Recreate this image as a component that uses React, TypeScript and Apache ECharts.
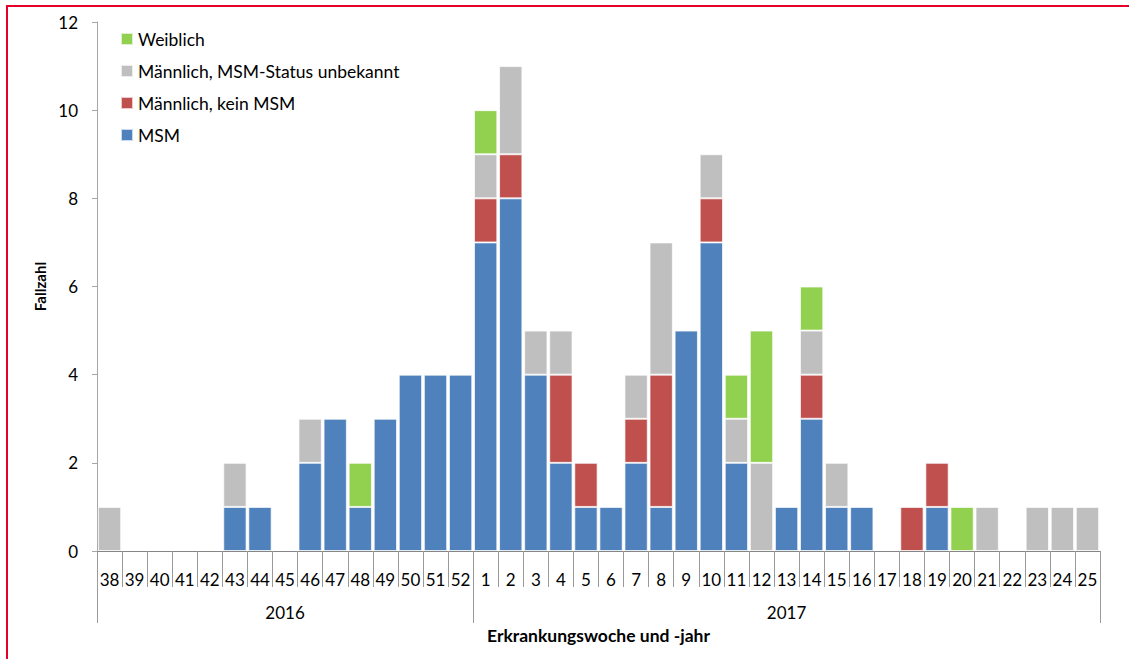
import React, { useEffect, useRef } from "react";
import * as echarts from "echarts";

const weeks = [
  "38", "39", "40", "41", "42", "43", "44", "45", "46", "47", "48", "49", "50", "51", "52",
  "1", "2", "3", "4", "5", "6", "7", "8", "9", "10", "11", "12", "13", "14", "15", "16", "17",
  "18", "19", "20", "21", "22", "23", "24", "25",
];
const yearLabels = weeks.map((_, i) => (i === 7 ? "2016" : i === 27 ? "2017" : ""));
const yearBoundaries = [0, 15];

const msm = [0, 0, 0, 0, 0, 1, 1, 0, 2, 3, 1, 3, 4, 4, 4, 7, 8, 4, 2, 1, 1, 2, 1, 5, 7, 2, 0, 1, 3, 1, 1, 0, 0, 1, 0, 0, 0, 0, 0, 0];
const keinMsm = [0, 0, 0, 0, 0, 0, 0, 0, 0, 0, 0, 0, 0, 0, 0, 1, 1, 0, 2, 1, 0, 1, 3, 0, 1, 0, 0, 0, 1, 0, 0, 0, 1, 1, 0, 0, 0, 0, 0, 0];
const unbekannt = [1, 0, 0, 0, 0, 1, 0, 0, 1, 0, 0, 0, 0, 0, 0, 1, 2, 1, 1, 0, 0, 1, 3, 0, 1, 1, 2, 0, 1, 1, 0, 0, 0, 0, 0, 1, 0, 1, 1, 1];
const weiblich = [0, 0, 0, 0, 0, 0, 0, 0, 0, 0, 1, 0, 0, 0, 0, 1, 0, 0, 0, 0, 0, 0, 0, 0, 0, 1, 3, 0, 1, 0, 0, 0, 0, 0, 1, 0, 0, 0, 0, 0];

const FONT = "Lato, 'Noto Sans', sans-serif";

export default function App() {
  const ref = useRef<HTMLDivElement>(null);
  useEffect(() => {
    if (!ref.current) return;
    const chart = echarts.init(ref.current, undefined, { renderer: "svg" });
    const mk = (name: string, data: number[], color: string) => ({
      name,
      type: "bar",
      stack: "total",
      data: data.map((v) => (v === 0 ? null : v)),
      barCategoryGap: "7%",
      itemStyle: { color, borderColor: "rgba(255,255,255,0.7)", borderWidth: 1 },
      emphasis: { disabled: true },
    });
    chart.setOption({
      animation: false,
      textStyle: { fontFamily: FONT },
      grid: { left: 97, right: 29, top: 22, bottom: 108, containLabel: false },
      legend: {
        left: 115,
        top: 25,
        orient: "vertical",
        itemWidth: 12,
        itemHeight: 12,
        itemGap: 14,
        icon: "rect",
        data: ["Weiblich", "Männlich, MSM-Status unbekannt", "Männlich, kein MSM", "MSM"],
        textStyle: { fontFamily: FONT, fontSize: 17.5, color: "#000" },
      },
      xAxis: [
        {
          type: "category",
          data: weeks,
          position: "bottom",
          axisLine: { show: true, lineStyle: { color: "#868686", width: 1 } },
          axisTick: { show: true, interval: 0, length: 36, lineStyle: { color: "#9a9a9a" } },
          axisLabel: { interval: 0, margin: 20, fontSize: 17, color: "#000", fontFamily: FONT },
          name: "Erkrankungswoche und -jahr",
          nameLocation: "middle",
          nameGap: 75,
          nameTextStyle: { fontSize: 17.5, fontWeight: "bold", color: "#000", fontFamily: FONT },
        },
        {
          type: "category",
          data: yearLabels,
          position: "bottom",
          offset: 36,
          axisLine: { show: false },
          axisTick: {
            show: true,
            length: 36,
            interval: (i: number) => yearBoundaries.includes(i),
            lineStyle: { color: "#9a9a9a" },
          },
          axisLabel: {
            interval: 0,
            margin: 17,
            fontSize: 17,
            color: "#000",
            fontFamily: FONT,
          },
        },
      ],
      yAxis: {
        type: "value",
        min: 0,
        max: 12,
        interval: 2,
        axisLine: { show: true, lineStyle: { color: "#a6a6a6" } },
        axisTick: { show: true, length: 5, lineStyle: { color: "#a6a6a6" } },
        splitLine: { show: false },
        axisLabel: { margin: 19, fontSize: 17, color: "#000", fontFamily: FONT },
        name: "Fallzahl",
        nameLocation: "middle",
        nameGap: 48,
        nameRotate: 90,
        nameTextStyle: { fontSize: 15, fontWeight: "bold", color: "#000", fontFamily: FONT },
      },
      graphic: [
        {
          type: "rect",
          shape: { x: 7, y: 6, width: 1200, height: 720 },
          style: { fill: "none", stroke: "#e4002b", lineWidth: 2 },
          silent: true,
        },
      ],
      series: [
        mk("MSM", msm, "#4f81bd"),
        mk("Männlich, kein MSM", keinMsm, "#c0504d"),
        mk("Männlich, MSM-Status unbekannt", unbekannt, "#bfbfbf"),
        mk("Weiblich", weiblich, "#92d050"),
      ],
    });
    return () => chart.dispose();
  }, []);
  return (
    <div
      ref={ref}
      style={{ position: "fixed", left: 0, top: 0, width: 1129, height: 659, background: "#fff" }}
    />
  );
}
